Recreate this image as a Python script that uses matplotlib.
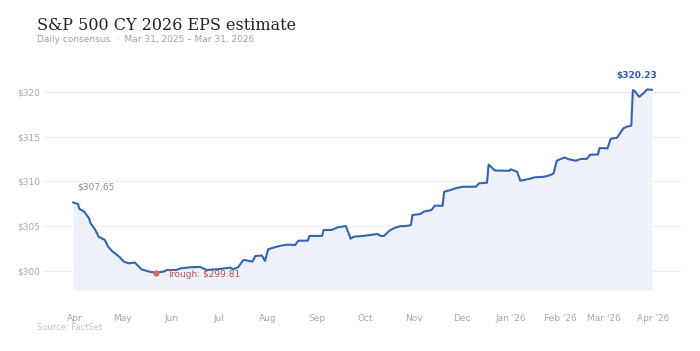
import numpy as np
import pandas as pd
import matplotlib
matplotlib.use("Agg")
import matplotlib.pyplot as plt
import matplotlib.dates as mdates

# Daily consensus (key points of the step line)
dates = [
    "2025-03-31", "2025-04-03", "2025-04-04", "2025-04-07", "2025-04-10", "2025-04-11",
    "2025-04-14", "2025-04-16", "2025-04-20", "2025-04-22", "2025-04-25", "2025-04-29",
    "2025-05-02", "2025-05-05", "2025-05-09", "2025-05-13", "2025-05-18", "2025-05-22",
    "2025-05-27", "2025-05-29", "2025-06-04", "2025-06-07", "2025-06-13", "2025-06-19",
    "2025-06-23", "2025-06-30", "2025-07-08", "2025-07-10", "2025-07-13", "2025-07-16",
    "2025-07-17", "2025-07-22", "2025-07-24", "2025-07-28", "2025-07-30", "2025-08-01",
    "2025-08-05", "2025-08-09", "2025-08-13", "2025-08-18", "2025-08-20", "2025-08-26",
    "2025-08-27", "2025-09-04", "2025-09-05", "2025-09-10", "2025-09-14", "2025-09-19",
    "2025-09-22", "2025-09-24", "2025-09-30", "2025-10-09", "2025-10-11", "2025-10-13",
    "2025-10-17", "2025-10-21", "2025-10-23", "2025-10-27", "2025-10-30", "2025-10-31",
    "2025-11-05", "2025-11-07", "2025-11-12", "2025-11-14", "2025-11-19", "2025-11-20",
    "2025-11-24", "2025-11-27", "2025-12-02", "2025-12-10", "2025-12-12", "2025-12-17",
    "2025-12-18", "2025-12-22", "2025-12-31", "2026-01-01", "2026-01-05", "2026-01-07",
    "2026-01-13", "2026-01-16", "2026-01-22", "2026-01-26", "2026-01-28", "2026-01-30",
    "2026-02-01", "2026-02-04", "2026-02-06", "2026-02-11", "2026-02-14", "2026-02-18",
    "2026-02-20", "2026-02-25", "2026-02-26", "2026-03-03", "2026-03-05", "2026-03-09",
    "2026-03-13", "2026-03-15", "2026-03-18", "2026-03-19", "2026-03-20", "2026-03-23",
    "2026-03-26", "2026-03-28", "2026-03-31",
]
eps = [
    307.65, 307.48, 306.92, 306.62, 305.88, 305.32,
    304.58, 303.83, 303.46, 302.71, 302.15, 301.60,
    301.04, 300.86, 300.93, 300.19, 299.92, 299.81,
    299.92, 300.11, 300.11, 300.30, 300.41, 300.45,
    300.11, 300.19, 300.37, 300.19, 300.41, 301.15,
    301.23, 301.04, 301.67, 301.73, 301.12, 302.42,
    302.65, 302.82, 302.94, 302.90, 303.38, 303.38,
    303.91, 303.91, 304.58, 304.58, 304.88, 305.02,
    303.60, 303.83, 303.91, 304.13, 303.91, 303.91,
    304.58, 304.88, 304.99, 305.02, 305.13, 306.25,
    306.36, 306.62, 306.81, 307.29, 307.29, 308.85,
    309.04, 309.23, 309.41, 309.41, 309.79, 309.85,
    311.88, 311.22, 311.19, 311.35, 311.08, 310.08,
    310.30, 310.46, 310.52, 310.71, 310.90, 312.31,
    312.47, 312.69, 312.50, 312.31, 312.50, 312.53,
    312.98, 313.02, 313.73, 313.69, 314.77, 314.88,
    315.93, 316.11, 316.22, 320.20, 320.12, 319.45,
    319.90, 320.28, 320.23,
]
trough_date = "2025-05-22"
trough_val = 299.81
month_ticks = pd.date_range("2025-04-01", "2026-04-01", freq="MS")
month_labels = ["Apr", "May", "Jun", "Jul", "Aug", "Sep", "Oct", "Nov", "Dec",
                "Jan '26", "Feb '26", "Mar '26", "Apr '26"]
y_ticks = [300, 305, 310, 315, 320]

x = pd.to_datetime(dates)
LINE = "#3465b0"
YMIN = 297.88

fig = plt.figure(figsize=(7, 3.51), dpi=100)
ax = fig.add_axes([0.063, 0.174, 0.910, 0.632])

ax.fill_between(x, eps, YMIN, color="#eef2f8", lw=0)
ax.plot(x, eps, color=LINE, lw=1.5, solid_joinstyle="round")
ax.plot(pd.to_datetime(trough_date), trough_val, "o", color="#c96a6a", ms=3.5, zorder=5)

ax.set_ylim(YMIN, 322.66)
ax.set_xlim(pd.Timestamp("2025-03-12 16:00"), pd.Timestamp("2026-04-18 10:00"))
ax.set_yticks(y_ticks)
ax.set_yticklabels([f"${v}" for v in y_ticks])
ax.set_xticks(month_ticks)
ax.set_xticklabels(month_labels)
ax.tick_params(axis="both", length=0, labelsize=6.5, labelcolor="#a8a8a8")
ax.tick_params(axis="x", pad=17)
ax.tick_params(axis="y", pad=3)
ax.grid(axis="y", color="#efefef", lw=0.8)
ax.set_axisbelow(True)
for s in ax.spines.values():
    s.set_visible(False)

ax.annotate(f"${eps[0]:.2f}", (x[0], eps[0]), xytext=(3, 11), textcoords="offset points",
            fontsize=6.5, color="#8c8c8c", ha="left", va="center")
ax.annotate(f"${eps[-1]:.2f}", (x[-1], eps[-1]), xytext=(-11, 10), textcoords="offset points",
            fontsize=6.5, color="#2d5ca8", fontweight="bold", ha="center", va="center")
ax.annotate(f"Trough: ${trough_val:.2f}", (pd.to_datetime(trough_date), trough_val),
            xytext=(8, -1), textcoords="offset points",
            fontsize=6.5, color="#c0504d", ha="left", va="center")

fig.text(37 / 700, 1 - 25 / 351, "S&P 500 CY 2026 EPS estimate", family="DejaVu Serif",
         fontsize=11.5, color="#222222", ha="left", va="center")
fig.text(37 / 700, 1 - 40 / 351, "Daily consensus  ·  Mar 31, 2025 – Mar 31, 2026",
         fontsize=6.5, color="#a0a0a0", ha="left", va="center")
fig.text(37 / 700, 1 - 328 / 351, "Source: FactSet", fontsize=6, color="#c4c4c4",
         ha="left", va="center")

fig.savefig("out.png", dpi=100)
